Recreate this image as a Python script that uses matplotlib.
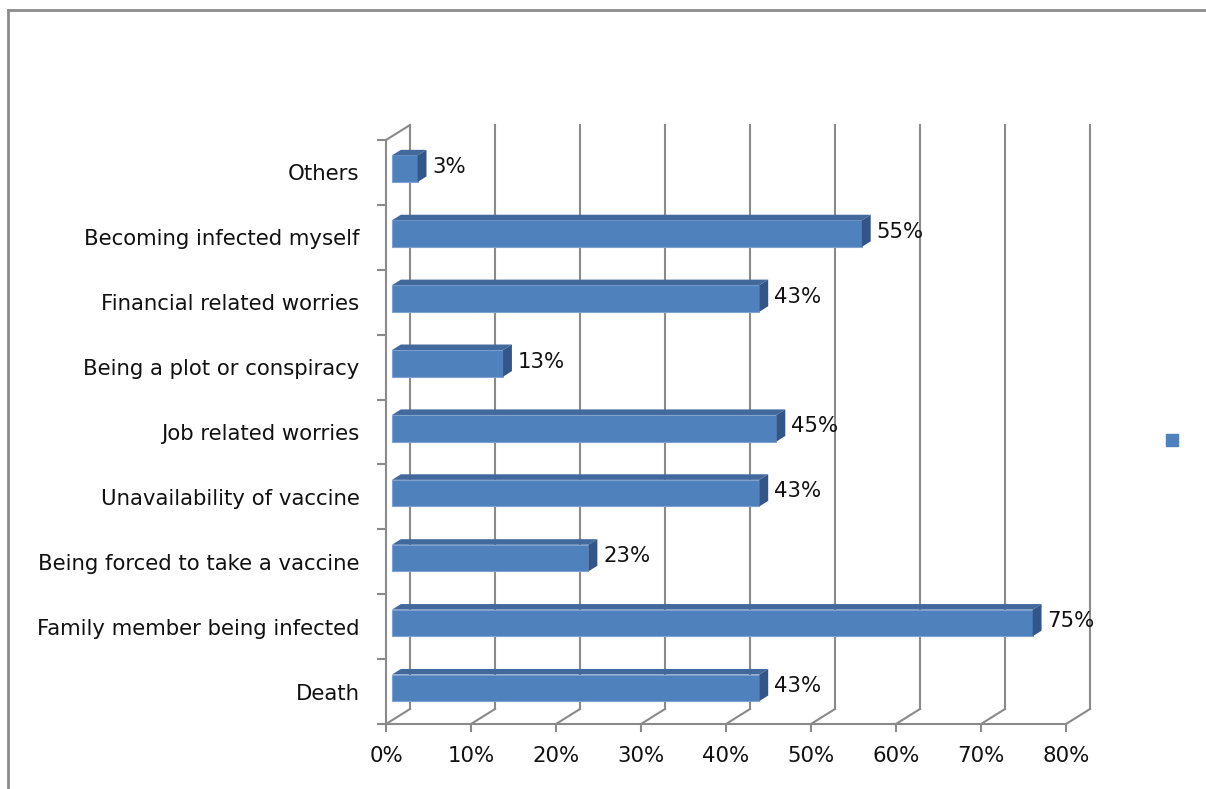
import matplotlib
matplotlib.use("Agg")
import matplotlib.pyplot as plt
from matplotlib.patches import Polygon, Rectangle
from matplotlib.lines import Line2D

categories = ["Death", "Family member being infected", "Being forced to take a vaccine",
              "Unavailability of vaccine", "Job related worries", "Being a plot or conspiracy",
              "Financial related worries", "Becoming infected myself", "Others"]
values = [43, 75, 23, 43, 45, 13, 43, 55, 3]
value_labels = ["43%", "75%", "23%", "43%", "45%", "13%", "43%", "55%", "3%"]
xticks = [0, 10, 20, 30, 40, 50, 60, 70, 80]

FRONT = "#4F81BD"
TOP = "#41699C"
SIDE = "#33568A"
GRID = "#8A8A8A"
TXT = "#111111"
FS = 15.3

W, H = 1206, 789
fig = plt.figure(figsize=(W / 100, H / 100), dpi=100)
ax = fig.add_axes([386 / W, 1 - 724 / H, (1066 - 386) / W, (724 - 140) / H])
ax.set_xlim(0, 80)
ax.set_ylim(-0.5, len(categories) - 0.5)

# depth of the 3d box in data units
DX = 24 / 8.5
DY = 15 / 64.9
f0, t = 0.25, 0.37   # bar offset into depth, bar thickness
h = 0.41

top = len(categories) - 0.5
# back wall gridlines + floor diagonals
for x in xticks:
    ax.add_line(Line2D([x + DX, x + DX], [-0.5 + DY, top + DY], color=GRID, lw=1.5, zorder=1, clip_on=False))
    ax.add_line(Line2D([x, x + DX], [-0.5, -0.5 + DY], color=GRID, lw=1.5, zorder=1, clip_on=False))
ax.add_line(Line2D([0, DX], [top, top + DY], color=GRID, lw=1.5, zorder=1, clip_on=False))

for i, (v, lab) in enumerate(zip(values, value_labels)):
    x0 = f0 * DX
    x1 = v * 1.005 + f0 * DX
    y0 = i - h / 2 + f0 * DY
    y1 = i + h / 2 + f0 * DY
    ax.add_patch(Rectangle((x0, y0), x1 - x0, y1 - y0, facecolor=FRONT, edgecolor="#7EA3D3",
                           lw=0.8, zorder=3, clip_on=False))
    ax.add_patch(Polygon([(x0, y1), (x1, y1), (x1 + t * DX, y1 + t * DY), (x0 + t * DX, y1 + t * DY)],
                         closed=True, facecolor=TOP, edgecolor="none", zorder=3, clip_on=False))
    ax.add_patch(Polygon([(x1, y0), (x1 + t * DX, y0 + t * DY), (x1 + t * DX, y1 + t * DY), (x1, y1)],
                         closed=True, facecolor=SIDE, edgecolor="none", zorder=3, clip_on=False))
    ax.text(x1 + t * DX + 0.7, i + f0 * DY + t * DY / 3, lab, fontsize=FS, color=TXT,
            ha="left", va="center", zorder=4)

for s in ["top", "right"]:
    ax.spines[s].set_visible(False)
for s in ["left", "bottom"]:
    ax.spines[s].set_color(GRID)
    ax.spines[s].set_linewidth(1.5)

ax.set_yticks(range(len(categories)))
ax.set_yticklabels(categories, fontsize=FS, color=TXT)
ax.set_yticks([k - 0.5 for k in range(len(categories) + 1)], minor=True)
ax.tick_params(axis="y", which="major", length=0, pad=19)
ax.tick_params(axis="y", which="minor", length=6.5, width=1.5, color=GRID)
ax.set_xticks(xticks)
ax.set_xticklabels([f"{x}%" for x in xticks], fontsize=FS, color=TXT)
ax.tick_params(axis="x", length=6, width=1.5, color=GRID, pad=10)
ax.patch.set_visible(False)

# legend marker with no text
fig.legend(handles=[Line2D([], [], marker="s", ls="", color=FRONT, markersize=9)], labels=[""],
           frameon=False, loc="center", bbox_to_anchor=(1172 / W, 1 - 441 / H),
           handlelength=0.5, handletextpad=0, borderpad=0)

# chart area border (top and left visible)
fig.add_artist(Line2D([8 / W, 1], [1 - 10 / H, 1 - 10 / H], color="#8C8C8C", lw=2, transform=fig.transFigure))
fig.add_artist(Line2D([8 / W, 8 / W], [0, 1 - 10 / H], color="#8C8C8C", lw=2, transform=fig.transFigure))

fig.savefig("out.png", dpi=100)
